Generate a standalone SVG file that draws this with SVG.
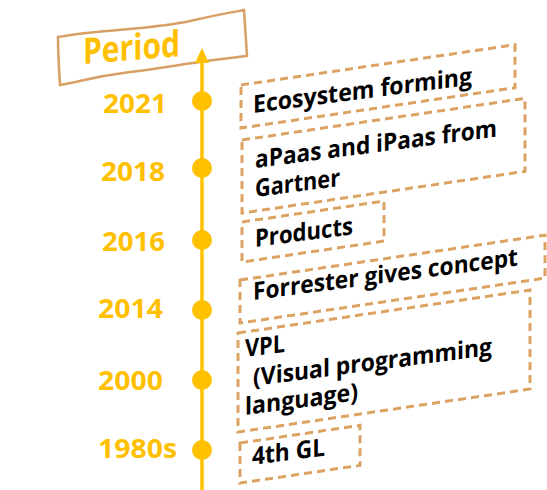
<svg xmlns="http://www.w3.org/2000/svg" width="547" height="490" viewBox="0 0 547 490">
  <defs>
    <style>
      .year { font-family: "Open Sans", "Noto Sans", sans-serif; font-weight: bold; font-size: 26px; fill: #FFC000; }
      .title { font-family: "Open Sans", "Noto Sans", sans-serif; font-weight: bold; font-size: 36px; fill: #FFC000; }
      .label { font-family: "Open Sans", "Noto Sans", sans-serif; font-weight: bold; font-size: 24.5px; fill: #000; }
      .box { fill: #fff; stroke: #DBA262; stroke-width: 3; stroke-dasharray: 8 5; }
      .dot { fill: #FFC000; }
      .axis { stroke: #FFC000; stroke-width: 3.5; fill: none; }
    </style>
  </defs>
  <rect width="547" height="490" fill="#fff"/>

  <!-- title banner -->
  <g id="period">
    <path d="M58,37 C100,29 150,30 190,21 S235,12 244,10 C245,25 246,40 247,56 C200,61 170,67 130,72 S80,82 60,85 C59,70 58,52 58,37 Z" fill="#fff" stroke="#D9A066" stroke-width="2.5"/>
    <text class="title" transform="translate(83,64) skewY(-4.6)" textLength="97" lengthAdjust="spacingAndGlyphs">Period</text>
  </g>

  <!-- time axis -->
  <g id="connectors">
    <line class="axis" x1="202" y1="60" x2="202" y2="490"/>
    <polygon points="202,48 195,63 209,63" fill="#FFC000"/>
  </g>

  <!-- year markers -->
  <g id="y2021"><circle class="dot" cx="202" cy="101" r="10"/><text class="year" x="103" y="113" textLength="64" lengthAdjust="spacingAndGlyphs">2021</text></g>
  <g id="y2018"><circle class="dot" cx="202" cy="168" r="10"/><text class="year" x="101" y="181" textLength="64" lengthAdjust="spacingAndGlyphs">2018</text></g>
  <g id="y2016"><circle class="dot" cx="202" cy="240" r="10"/><text class="year" x="102" y="251" textLength="63" lengthAdjust="spacingAndGlyphs">2016</text></g>
  <g id="y2014"><circle class="dot" cx="202" cy="310" r="10"/><text class="year" x="98" y="318" textLength="65" lengthAdjust="spacingAndGlyphs">2014</text></g>
  <g id="y2000"><circle class="dot" cx="202" cy="380" r="10"/><text class="year" x="98" y="390" textLength="65" lengthAdjust="spacingAndGlyphs">2000</text></g>
  <g id="y1980s"><circle class="dot" cx="202" cy="450" r="10"/><text class="year" x="98" y="458" textLength="79" lengthAdjust="spacingAndGlyphs">1980s</text></g>

  <!-- event boxes -->
  <g id="e2021">
    <rect class="box" transform="translate(241,85) skewY(-8.37)" width="274" height="43"/>
    <text class="label" transform="translate(253,113) skewY(-7.4)" textLength="219" lengthAdjust="spacingAndGlyphs">Ecosystem forming</text>
  </g>
  <g id="e2018">
    <rect class="box" transform="translate(242,140) skewY(-8.37)" width="283" height="73"/>
    <text class="label" transform="translate(255,168) skewY(-7.4)" textLength="242" lengthAdjust="spacingAndGlyphs">aPaas and iPaas from</text>
    <text class="label" transform="translate(255,197) skewY(-7.4)" textLength="85" lengthAdjust="spacingAndGlyphs">Gartner</text>
  </g>
  <g id="e2016">
    <rect class="box" transform="translate(242,222) skewY(-8.37)" width="142" height="40"/>
    <text class="label" transform="translate(255,247) skewY(-7.4)" textLength="98" lengthAdjust="spacingAndGlyphs">Products</text>
  </g>
  <g id="e2014">
    <rect class="box" transform="translate(240,280) skewY(-8.37)" width="305" height="43"/>
    <text class="label" transform="translate(253,300) skewY(-7.4)" textLength="265" lengthAdjust="spacingAndGlyphs">Forrester gives concept</text>
  </g>
  <g id="e2000">
    <rect class="box" transform="translate(238,333) skewY(-8.37)" width="292" height="99"/>
    <text class="label" transform="translate(245,357) skewY(-7.4)" textLength="40" lengthAdjust="spacingAndGlyphs">VPL</text>
    <text class="label" transform="translate(253,386) skewY(-7.4)" textLength="239" lengthAdjust="spacingAndGlyphs">(Visual programming</text>
    <text class="label" transform="translate(245,415) skewY(-7.4)" textLength="113" lengthAdjust="spacingAndGlyphs">language)</text>
  </g>
  <g id="e1980s">
    <rect class="box" transform="translate(240,443) skewY(-8.37)" width="120" height="40"/>
    <text class="label" transform="translate(252,465) skewY(-7.4)" textLength="73" lengthAdjust="spacingAndGlyphs">4th GL</text>
  </g>
</svg>
